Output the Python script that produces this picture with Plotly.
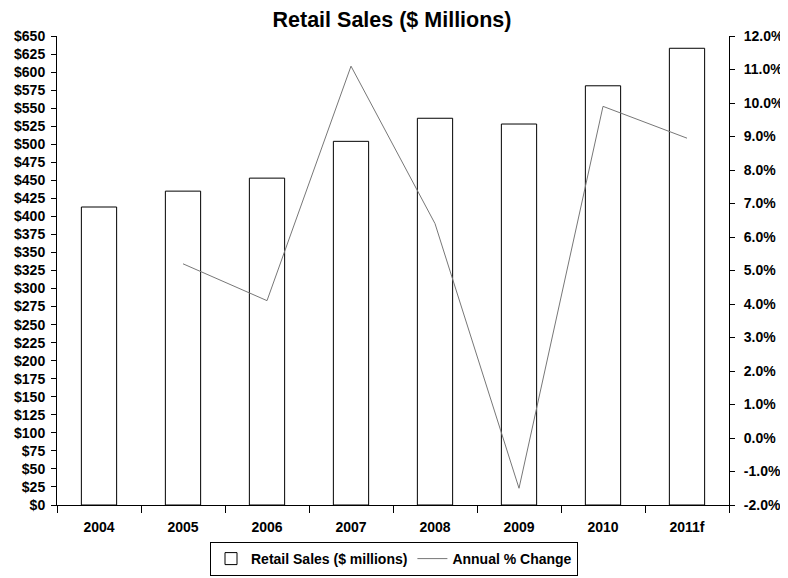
import plotly.graph_objects as go

years = ["2004", "2005", "2006", "2007", "2008", "2009", "2010", "2011f"]
sales = [413, 435, 453, 504, 536, 528, 581, 633]
change_years = ["2005", "2006", "2007", "2008", "2009", "2010", "2011f"]
pct_change = [5.2, 4.1, 11.1, 6.4, -1.5, 9.9, 8.95]
pct_ticks = [-2, -1, 0, 1, 2, 3, 4, 5, 6, 7, 8, 9, 10, 11, 12]
pct_labels = ["<b>%s%.1f%%</b>" % ("-" if v < 0 else "", abs(v)) for v in pct_ticks]

fam = "Liberation Sans, Arial, sans-serif"
W, H = 780, 570

fig = go.Figure()
fig.add_trace(go.Bar(
    x=years, y=sales, name="<b>Retail Sales ($ millions)</b>",
    marker=dict(color="white", line=dict(color="black", width=1)),
))
fig.add_trace(go.Scatter(
    x=change_years, y=pct_change, name="<b>Annual % Change</b>", yaxis="y2",
    mode="lines", line=dict(color="#777777", width=1),
))

fig.update_layout(
    width=W, height=H,
    margin=dict(l=49, r=59, t=28, b=73),
    paper_bgcolor="white", plot_bgcolor="white",
    font=dict(family=fam, size=14, color="black"),
    title=dict(text="<b>Retail Sales ($ Millions)</b>", x=(392 - 8) / W, xanchor="center",
               yref="container", y=1 - 11 / H, yanchor="middle", font=dict(size=21.5)),
    bargap=0.58,
    showlegend=True,
    legend=dict(orientation="h", xref="container", x=(394 - 8) / W, xanchor="center",
                yref="container", y=1 - 551 / H, yanchor="middle",
                bordercolor="black", borderwidth=1, font=dict(size=14),
                itemwidth=30, tracegroupgap=0),
    xaxis=dict(type="category", showline=True, linecolor="black", linewidth=1,
               ticks="outside", tickson="boundaries", ticklen=7, tickcolor="black",
               showgrid=False, automargin=False, ticklabelstandoff=9,
               tickprefix="<b>", ticksuffix="</b>"),
    yaxis=dict(range=[0, 650], dtick=25, tickprefix="<b>$", ticksuffix="</b>",
               showline=True, linecolor="black", linewidth=1, ticks="outside",
               ticklen=5, tickcolor="black", showgrid=False, zeroline=False,
               automargin=False, ticklabelstandoff=3),
    yaxis2=dict(range=[-2, 12], tickmode="array", tickvals=pct_ticks, ticktext=pct_labels,
                overlaying="y", side="right",
                showline=True, linecolor="black", linewidth=1, ticks="outside",
                ticklen=5, tickcolor="black", showgrid=False, zeroline=False,
                automargin=False, ticklabelstandoff=6),
)

fig.write_html("out.html")
